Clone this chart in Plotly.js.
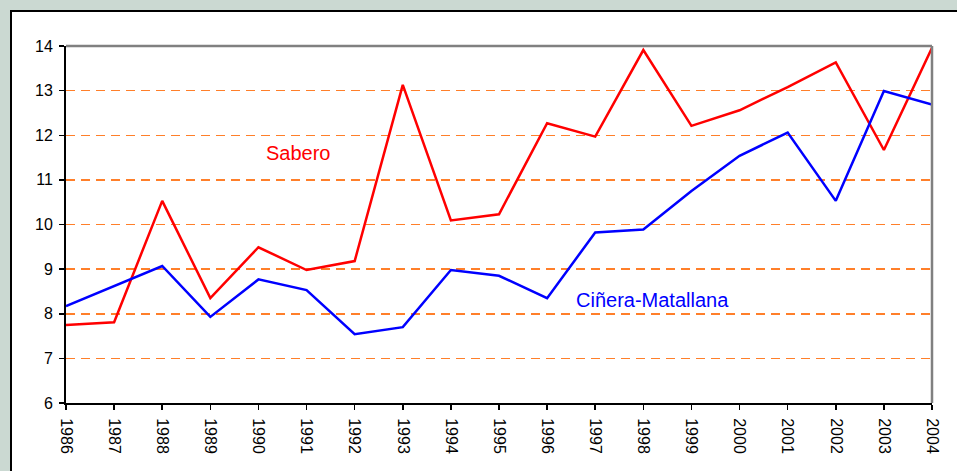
<!DOCTYPE html>
<html>
<head>
<meta charset="utf-8">
<script src="https://cdn.plot.ly/plotly-3.0.1.min.js"></script>
<style>
  html, body { margin: 0; padding: 0; width: 957px; height: 471px; overflow: hidden; background: #CBD9D2; }
  #frame { position: absolute; left: 10px; top: 10px; width: 960px; height: 480px; background: #ffffff; border: 2px solid #000000; box-sizing: border-box; }
  #chart { position: absolute; left: 0; top: 0; width: 957px; height: 471px; }
</style>
</head>
<body>
<div id="frame"></div>
<div id="chart"></div>
<script>
const years = [1986,1987,1988,1989,1990,1991,1992,1993,1994,1995,1996,1997,1998,1999,2000,2001,2002,2003,2004];
const sabero = [7.75,7.81,10.53,8.35,9.49,8.98,9.18,13.13,10.09,10.23,12.27,11.97,13.91,12.21,12.56,13.08,13.63,11.67,13.96];
const cinera = [8.17,8.62,9.07,7.93,8.77,8.53,7.54,7.70,8.98,8.85,8.35,9.82,9.89,10.75,11.54,12.06,10.53,12.99,12.69];
const yTicks = [6,7,8,9,10,11,12,13,14];
const seriesNames = ['Sabero', 'Ciñera-Matallana'];

const traces = [
  { x: years, y: sabero, type: 'scatter', mode: 'lines', name: seriesNames[0],
    line: { color: '#FF0000', width: 2.5 }, hoverinfo: 'skip' },
  { x: years, y: cinera, type: 'scatter', mode: 'lines', name: seriesNames[1],
    line: { color: '#0000FF', width: 2.5 }, hoverinfo: 'skip' }
];

const layout = {
  width: 957, height: 471,
  margin: { l: 66, r: 25, t: 46, b: 68, pad: 0 },
  paper_bgcolor: 'rgba(0,0,0,0)',
  plot_bgcolor: 'rgba(0,0,0,0)',
  showlegend: false,
  font: { family: 'Liberation Sans, Arial, sans-serif', color: '#000000', size: 16 },
  xaxis: {
    range: [1986, 2004], tickmode: 'array', tickvals: years, ticktext: years.map(String),
    tickangle: 90, ticks: 'outside', ticklen: 5, tickwidth: 1.5, tickcolor: '#000000',
    ticklabelstandoff: 5,
    showline: true, linecolor: '#000000', linewidth: 2, showgrid: false, zeroline: false,
    tickfont: { size: 16 }
  },
  yaxis: {
    range: [6, 14], tickmode: 'array', tickvals: yTicks, ticktext: yTicks.map(String),
    ticks: 'outside', ticklen: 5, tickwidth: 1.5, tickcolor: '#000000',
    ticklabelstandoff: 3,
    showline: true, linecolor: '#000000', linewidth: 2,
    showgrid: true, gridcolor: '#FF7F2A', gridwidth: 1.5, griddash: '9px,6px',
    zeroline: false, tickfont: { size: 16 }
  },
  shapes: [
    { type: 'line', xref: 'paper', yref: 'paper', x0: 0, x1: 1, y0: 1, y1: 1, line: { color: '#808080', width: 2.5 } },
    { type: 'line', xref: 'paper', yref: 'paper', x0: 1, x1: 1, y0: 0, y1: 1, line: { color: '#808080', width: 2.5 } }
  ],
  annotations: [
    { x: 1990.83, y: 11.6, xref: 'x', yref: 'y', text: seriesNames[0], showarrow: false,
      font: { color: '#FF0000', size: 20 } },
    { x: 1998.19, y: 8.31, xref: 'x', yref: 'y', text: seriesNames[1], showarrow: false,
      font: { color: '#0000FF', size: 20 } }
  ]
};

Plotly.newPlot('chart', traces, layout, { staticPlot: true, displayModeBar: false });
</script>
</body>
</html>
